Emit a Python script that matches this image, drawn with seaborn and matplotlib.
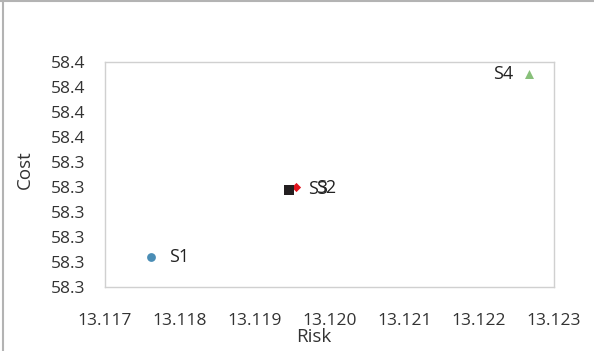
import matplotlib
matplotlib.use("Agg")
import matplotlib.pyplot as plt
from matplotlib.lines import Line2D
import seaborn as sns
import pandas as pd

# Scenario results: risk vs cost
scenarios = ["S1", "S2", "S3", "S4"]
risk = [13.11762, 13.119556, 13.11946, 13.122664]
cost = [58.302, 58.3302, 58.3290, 58.3752]

x_ticks = [13.117, 13.118, 13.119, 13.120, 13.121, 13.122, 13.123]
y_ticks = [58.29, 58.30, 58.31, 58.32, 58.33, 58.34, 58.35, 58.36, 58.37, 58.38]

colors = {"S1": "#4a8db5", "S2": "#e0141e", "S3": "#231f20", "S4": "#88c07a"}
markers = {"S1": "o", "S2": "D", "S3": "s", "S4": "^"}
sizes = {"S1": 40, "S2": 22, "S3": 48, "S4": 42}

df = pd.DataFrame({"Scenario": scenarios, "Risk": risk, "Cost": cost})

sns.set_style("white")
plt.rcParams["font.family"] = ["Open Sans", "DejaVu Sans"]

fig = plt.figure(figsize=(5.94, 3.51), dpi=100)
ax = fig.add_axes([105 / 594, 1 - 287 / 351, (554 - 105) / 594, (287 - 62) / 351])

for name in scenarios:
    sub = df[df["Scenario"] == name]
    sns.scatterplot(data=sub, x="Risk", y="Cost", ax=ax, color=colors[name],
                    marker=markers[name], s=sizes[name], linewidth=0, zorder=3,
                    legend=False)

# point labels
offsets = {"S1": (13, 0, "left"), "S2": (14, -1, "left"), "S3": (14, 0, "left"),
           "S4": (-11, 0, "right")}
for name, xv, yv in zip(scenarios, risk, cost):
    dx, dy, ha = offsets[name]
    ax.annotate(name, (xv, yv), xytext=(dx, dy), textcoords="offset points",
                ha=ha, va="center", fontsize=13, color="#222222")

ax.set_xlim(x_ticks[0], x_ticks[-1])
ax.set_ylim(y_ticks[0], y_ticks[-1])
ax.set_xticks(x_ticks)
ax.set_yticks(y_ticks)
ax.set_xticklabels([f"{v:.3f}" for v in x_ticks])
ax.set_yticklabels([f"{v:.1f}" for v in y_ticks])
ax.tick_params(axis="both", direction="in", length=4, width=0.8, color="#d0d0d0",
               labelsize=12.5, labelcolor="#333333")
ax.tick_params(axis="x", pad=18.5)
ax.tick_params(axis="y", pad=14)
ax.tick_params(top=False, right=False)

for sp in ax.spines.values():
    sp.set_color("#d0d0d0")
    sp.set_linewidth(1)

ax.set_xlabel("Risk", fontsize=13.5, color="#333333")
ax.set_ylabel("Cost", fontsize=13.5, color="#333333")
ax.xaxis.set_label_coords(0.465, -0.222)
ax.yaxis.set_label_coords(-0.178, 0.52)
ax.xaxis.label.set_va("center")
ax.yaxis.label.set_va("center")

# outer frame edges
fig.add_artist(Line2D([0, 1], [0.998, 0.998], transform=fig.transFigure,
                      color="#b3b3b3", linewidth=1.5))
fig.add_artist(Line2D([0.0045, 0.0045], [0, 1], transform=fig.transFigure,
                      color="#b3b3b3", linewidth=1.5))

fig.savefig("out.png", dpi=100)
